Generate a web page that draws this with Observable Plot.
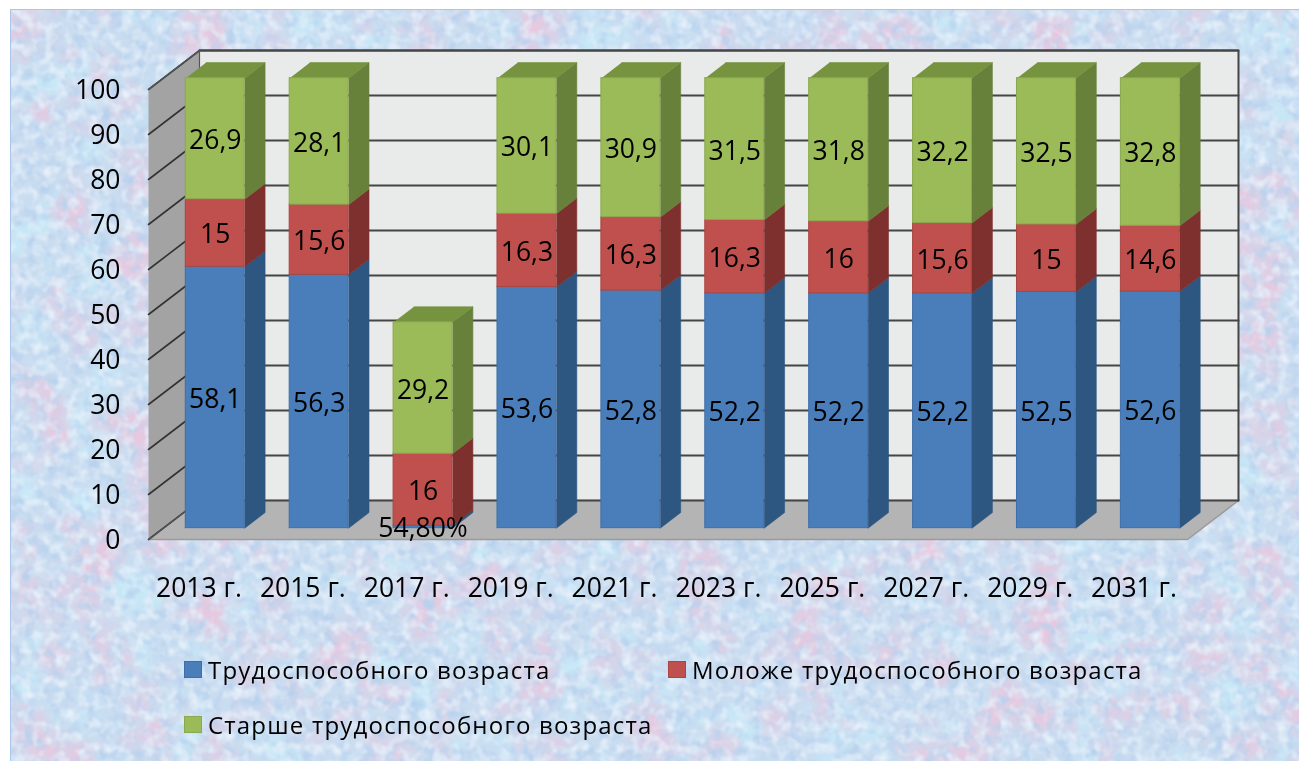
<!DOCTYPE html>
<html>
<head>
<meta charset="utf-8">
<script src="https://cdn.jsdelivr.net/npm/d3@7"></script>
<script src="https://cdn.jsdelivr.net/npm/@observablehq/plot@0.6"></script>
<style>
html,body{margin:0;padding:0;background:#fff;}
#page{position:relative;width:1299px;height:761px;overflow:hidden;font-family:"Open Sans",sans-serif;color:#000;}
#bg{position:absolute;left:10px;top:9px;right:-2px;bottom:-2px;border:1.5px solid #a9c6e6;box-sizing:border-box;background:#c8e0f2;}
#chart{position:absolute;left:0;top:0;}
#chart svg{background:transparent;display:block;filter:blur(.45px);}
#legend{position:absolute;left:0;top:610px;width:1299px;height:151px;filter:blur(.45px);}
.li{position:absolute;display:flex;align-items:center;font-size:24px;letter-spacing:1.2px;font-weight:500;white-space:nowrap;height:30px;}
.sw{width:18px;height:17px;border:1px solid;margin-right:6px;flex:none;box-sizing:border-box;}
</style>
</head>
<body>
<div id="page">
<div id="bg"></div>
<div id="chart"></div>
<div id="legend"></div>
</div>
<script>
const years = ["2013 г.","2015 г.","2017 г.","2019 г.","2021 г.","2023 г.","2025 г.","2027 г.","2029 г.","2031 г."];
const working = [58.1,56.3,0.548,53.6,52.8,52.2,52.2,52.2,52.5,52.6];
const younger = [15,15.6,16,16.3,16.3,16.3,16,15.6,15,14.6];
const older = [26.9,28.1,29.2,30.1,30.9,31.5,31.8,32.2,32.5,32.8];
const workingLabels = ["58,1","56,3","54,80%","53,6","52,8","52,2","52,2","52,2","52,5","52,6"];
const youngerLabels = ["15","15,6","16","16,3","16,3","16,3","16","15,6","15","14,6"];
const olderLabels = ["26,9","28,1","29,2","30,1","30,9","31,5","31,8","32,2","32,5","32,8"];
const seriesNames = ["Трудоспособного возраста","Моложе трудоспособного возраста","Старше трудоспособного возраста"];
const yTicks = [0,10,20,30,40,50,60,70,80,90,100];

// background texture
const tex = `<svg xmlns='http://www.w3.org/2000/svg' width='1299' height='761'>
<filter id='b' x='0' y='0' width='100%' height='100%' color-interpolation-filters='sRGB'><feTurbulence type='fractalNoise' baseFrequency='.02' numOctaves='4' seed='11'/><feColorMatrix values='0 0 0 0 .78  0 0 0 0 .91  0 0 0 0 .97  3.2 0 0 0 -1.5'/></filter>
<filter id='a' x='0' y='0' width='100%' height='100%' color-interpolation-filters='sRGB'><feTurbulence type='fractalNoise' baseFrequency='.018' numOctaves='4' seed='4'/><feColorMatrix values='0 0 0 0 .90  0 0 0 0 .79  0 0 0 0 .88  3.2 0 0 0 -1.45'/></filter>
<filter id='c' x='0' y='0' width='100%' height='100%' color-interpolation-filters='sRGB'><feTurbulence type='fractalNoise' baseFrequency='.08' numOctaves='2' seed='23'/><feColorMatrix values='0 0 0 0 .72  0 0 0 0 .82  0 0 0 0 .93  2.4 0 0 0 -1.05'/></filter>
<filter id='d' x='0' y='0' width='100%' height='100%' color-interpolation-filters='sRGB'><feTurbulence type='fractalNoise' baseFrequency='.09' numOctaves='2' seed='37'/><feColorMatrix values='0 0 0 0 .90  0 0 0 0 .94  0 0 0 0 .98  2.4 0 0 0 -1.05'/></filter>
<rect width='100%' height='100%' fill='#c9dcf0'/><rect width='100%' height='100%' filter='url(#b)'/><rect width='100%' height='100%' filter='url(#a)'/><rect width='100%' height='100%' filter='url(#c)'/><rect width='100%' height='100%' filter='url(#d)'/></svg>`;
document.getElementById("bg").style.backgroundImage = `url("data:image/svg+xml,${encodeURIComponent(tex)}")`;

// oblique projection of the 3D box: depth d in 0..1 from the front edge to the back wall
const depthX = 0.4908, depthY = 8.667;
const project = (x, v, d) => ({px: x + d * depthX, py: v + d * depthY});

const barHalf = 0.2835, d0 = 0.29, d1 = 0.69;
const palette = [
  {front:"#4a7ebb", side:"#2d5681", top:"#35618f", edge:"#3f6fa8"},
  {front:"#c0504d", side:"#7e302e", top:"#94403d", edge:"#a94643"},
  {front:"#9bbb59", side:"#67803a", top:"#76933f", edge:"#8aa84d"}
];
const values = [working, younger, older];
const labels = [workingLabels, youngerLabels, olderLabels];

const fronts = [], faces = [], texts = [];
let fid = 0;
const face = (color, corners) => {
  const id = fid++;
  corners.forEach(c => faces.push({id, color, ...c}));
};
years.forEach((yr, i) => {
  let base = 0;
  const c = i + 0.5, l = c - barHalf, r = c + barHalf;
  values.forEach((vals, s) => {
    const v0 = base, v1 = base + vals[i];
    const p = palette[s];
    face(p.side, [project(r,v0,d0), project(r,v0,d1), project(r,v1,d1), project(r,v1,d0)]);
    const a = project(l,v0,d0), b = project(r,v1,d0);
    fronts.push({x1:a.px, x2:b.px, y1:a.py, y2:b.py, color:p.front, edge:p.edge});
    if (s === 2) face(p.top, [project(l,v1,d0), project(r,v1,d0), project(r,v1,d1), project(l,v1,d1)]);
    const m = project(c,(v0+v1)/2,d0);
    texts.push({x:m.px, y:m.py, t:labels[s][i]});
    base = v1;
  });
});

const wallBack = [project(0,0,1), project(10,0,1), project(10,100,1), project(0,100,1)];
const wallLeft = [project(0,0,0), project(0,0,1), project(0,100,1), project(0,100,0)];
const floor = [project(0,0,0), project(10,0,0), project(10,0,1), project(0,0,1)];
const wallEdge = [project(0,100,1), project(10,100,1), project(10,0,1)];
const gridBack = yTicks.flatMap(t => [{t,...project(0,t,1)},{t,...project(10,t,1)}]);
const gridLeft = yTicks.flatMap(t => [{t,...project(0,t,0)},{t,...project(0,t,1)}]);

const plot = Plot.plot({
  width: 1299, height: 610,
  marginLeft: 148, marginRight: 112, marginTop: 89, marginBottom: 71,
  style: {background:"transparent", fontFamily:'"Open Sans",sans-serif', color:"#000", overflow:"visible"},
  x: {type:"linear", domain:[0,10], range:[148,1187], axis:null},
  y: {type:"linear", domain:[0,100], range:[539,89], axis:null},
  color: {type:"identity"},
  marks: [
    Plot.line(wallBack, {x:"px", y:"py", fill:"#e9eaea", stroke:"none"}),
    Plot.line(wallLeft, {x:"px", y:"py", fill:"#a3a3a3", stroke:"none"}),
    Plot.line(floor, {x:"px", y:"py", fill:"#b4b4b4", stroke:"#9a9a9a", strokeWidth:1.5}),
    Plot.line(gridBack, {x:"px", y:"py", z:"t", stroke:"#454545", strokeWidth:2}),
    Plot.line(gridLeft, {x:"px", y:"py", z:"t", stroke:"#333", strokeWidth:1.6}),
    Plot.line(wallEdge, {x:"px", y:"py", stroke:"#454545", strokeWidth:2}),
    Plot.line(wallLeft, {x:"px", y:"py", stroke:"#555", strokeWidth:1.2}),
    Plot.line(faces, {x:"px", y:"py", z:"id", fill:"color", stroke:"color", strokeWidth:.6}),
    Plot.rect(fronts, {x1:"x1", x2:"x2", y1:"y1", y2:"y2", fill:"color", stroke:"edge", strokeWidth:1}),
    Plot.text(texts, {x:"x", y:"y", dy:2, text:"t", fontSize:26.5, fill:"#000"}),
    Plot.axisY({ticks:yTicks, tickSize:0, tickPadding:28, fontSize:26.5, dy:1.5, label:null, anchor:"left", tickFormat:d=>String(d)}),
    Plot.axisX({ticks:years.map((_,i)=>i+.5), tickSize:0, tickPadding:39, dx:-1.5, fontSize:26.5, fontWeight:500, label:null, anchor:"bottom", tickFormat:d=>years[Math.round(d-.5)]})
  ]
});
document.getElementById("chart").append(plot);

const legendItems = [
  {name:seriesNames[0], color:palette[0], left:184, top:44},
  {name:seriesNames[1], color:palette[1], left:668, top:44},
  {name:seriesNames[2], color:palette[2], left:184, top:99}
];
const lg = document.getElementById("legend");
legendItems.forEach(it => {
  const d = document.createElement("div");
  d.className = "li";
  d.style.left = it.left + "px"; d.style.top = it.top + "px";
  const sw = document.createElement("span");
  sw.className = "sw";
  sw.style.background = it.color.front; sw.style.borderColor = it.color.edge;
  d.append(sw, document.createTextNode(it.name));
  lg.append(d);
});
</script>
</body>
</html>
